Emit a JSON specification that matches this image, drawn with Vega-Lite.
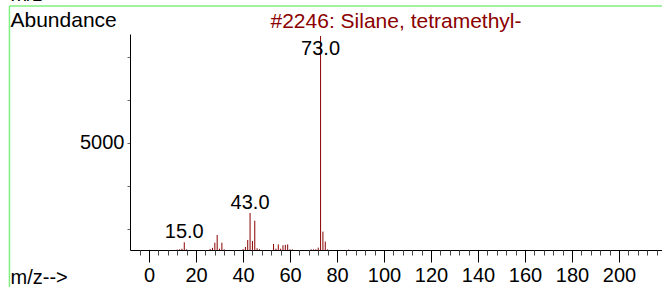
{
  "$schema": "https://vega.github.io/schema/vega-lite/v6.json",
  "width": 532,
  "height": 216,
  "autosize": "none",
  "padding": {"left": 130, "top": 34, "right": 0, "bottom": 37},
  "background": "white",
  "config": {
    "view": {"stroke": null},
    "font": "Liberation Sans",
    "axis": {"labelFont": "Liberation Sans", "titleFont": "Liberation Sans", "labelColor": "black", "titleColor": "black", "titleFontWeight": "normal", "domainColor": "black", "grid": false, "ticks": true}
  },
  "resolve": {"axis": {"x": "independent"}},
  "datasets": {
    "peaks": [
      {"mz": 12, "ab": 20},
      {"mz": 13, "ab": 30},
      {"mz": 14, "ab": 60},
      {"mz": 15, "ab": 360, "label": "15.0"},
      {"mz": 16, "ab": 30},
      {"mz": 26, "ab": 50},
      {"mz": 27, "ab": 100},
      {"mz": 28, "ab": 340},
      {"mz": 29, "ab": 700},
      {"mz": 30, "ab": 60},
      {"mz": 31, "ab": 340},
      {"mz": 32, "ab": 30},
      {"mz": 40, "ab": 40},
      {"mz": 41, "ab": 140},
      {"mz": 42, "ab": 470},
      {"mz": 43, "ab": 1730, "label": "43.0"},
      {"mz": 44, "ab": 420},
      {"mz": 45, "ab": 1370},
      {"mz": 46, "ab": 80},
      {"mz": 47, "ab": 40},
      {"mz": 53, "ab": 280},
      {"mz": 54, "ab": 60},
      {"mz": 55, "ab": 260},
      {"mz": 56, "ab": 60},
      {"mz": 57, "ab": 220},
      {"mz": 58, "ab": 240},
      {"mz": 59, "ab": 260},
      {"mz": 60, "ab": 30},
      {"mz": 61, "ab": 30},
      {"mz": 69, "ab": 30},
      {"mz": 70, "ab": 30},
      {"mz": 71, "ab": 30},
      {"mz": 72, "ab": 110},
      {"mz": 73, "ab": 10000, "label": "73.0"},
      {"mz": 74, "ab": 860},
      {"mz": 75, "ab": 390},
      {"mz": 76, "ab": 30},
      {"mz": 85, "ab": 20}
    ]
  },
  "layer": [
    {
      "layer": [
        {
          "data": {"name": "peaks"},
          "mark": {"type": "rule", "color": "#8b0000", "strokeWidth": 1},
          "encoding": {
            "x": {
              "field": "mz", "type": "quantitative",
              "scale": {"domain": [-8.1, 218.3], "nice": false, "zero": false},
              "axis": {
                "values": [0,20,40,60,80,100,120,140,160,180,200],
                "ticks": true,
                "tickSize": 12,
                "tickWidth": 1,
                "tickColor": "#000000",
                "labelFontSize": 20,
                "labelPadding": 3,
                "labelFlush": false,
                "labelOverlap": false,
                "title": "m/z-->",
                "titleFontSize": 20,
                "titleX": -120,
                "titleY": 33,
                "titleAlign": "left",
                "titleAnchor": "start",
                "titleBaseline": "alphabetic"
              }
            },
            "y": {
              "field": "ab", "type": "quantitative",
              "scale": {"domain": [0, 10093], "nice": false},
              "axis": {
                "values": [1000,2000,3000,4000,5000,6000,7000,8000,9000,10000],
                "labelExpr": "datum.value === 5000 ? '5000' : ''",
                "ticks": true,
                "tickSize": 3,
                "tickWidth": 1,
                "tickColor": "#666666",
                "labelFontSize": 20,
                "labelPadding": 3,
                "labelOverlap": false,
                "title": "Abundance",
                "titleFontSize": 21,
                "titleAngle": 0,
                "titleX": -120,
                "titleY": -8,
                "titleAlign": "left",
                "titleAnchor": "start",
                "titleBaseline": "alphabetic"
              }
            },
            "y2": {"datum": 0}
          }
        },
        {
          "data": {"name": "peaks"},
          "transform": [{"filter": "datum.label && datum.mz !== 73"}],
          "mark": {"type": "text", "font": "Liberation Sans", "fontSize": 20, "color": "black", "baseline": "alphabetic", "align": "center", "dy": -4},
          "encoding": {
            "x": {"field": "mz", "type": "quantitative"},
            "y": {"field": "ab", "type": "quantitative"},
            "text": {"field": "label"}
          }
        },
        {
          "data": {"name": "peaks"},
          "transform": [{"filter": "datum.mz === 73"}],
          "mark": {"type": "text", "font": "Liberation Sans", "fontSize": 20, "color": "black", "baseline": "alphabetic", "align": "center"},
          "encoding": {
            "x": {"field": "mz", "type": "quantitative"},
            "y": {"datum": 9112, "type": "quantitative"},
            "text": {"field": "label"}
          }
        },
        {
          "data": {"values": [{"t": "#2246: Silane, tetramethyl-"}]},
          "mark": {"type": "text", "font": "Liberation Sans", "fontSize": 21, "color": "#8b0000", "baseline": "alphabetic", "align": "center"},
          "encoding": {
            "x": {"datum": 105.1, "type": "quantitative"},
            "y": {"datum": 10373, "type": "quantitative"},
            "text": {"field": "t"}
          }
        },
        {
          "data": {"values": [{}]},
          "mark": {"type": "rule", "color": "#80f080", "strokeWidth": 1.5},
          "encoding": {
            "x": {"datum": -59.4, "type": "quantitative"},
            "x2": {"datum": 218.3},
            "y": {"datum": 11401, "type": "quantitative"}
          }
        },
        {
          "data": {"values": [{}]},
          "mark": {"type": "rule", "color": "#80f080", "strokeWidth": 1.5},
          "encoding": {
            "x": {"datum": -59.4, "type": "quantitative"},
            "y": {"datum": 11401, "type": "quantitative"},
            "y2": {"datum": -1729}
          }
        },
        {
          "data": {"values": [{"t": "m/z-->"}]},
          "mark": {"type": "text", "font": "Liberation Sans", "fontSize": 20, "color": "black", "baseline": "alphabetic", "align": "left"},
          "encoding": {
            "x": {"datum": -59.0, "type": "quantitative"},
            "y": {"datum": 11635, "type": "quantitative"},
            "text": {"field": "t"}
          }
        }
      ]
    },
    {
      "data": {"name": "peaks"},
      "mark": {"type": "point", "opacity": 0},
      "encoding": {
        "x": {
          "field": "mz", "type": "quantitative",
          "axis": {
            "orient": "top",
            "offset": -216,
            "values": [-4,4,8,12,16,24,28,32,36,44,48,52,56,64,68,72,76,84,88,92,96,104,108,112,116,124,128,132,136,144,148,152,156,164,168,172,176,184,188,192,196,204,208,212,216],
            "ticks": true,
            "tickSize": -5,
            "tickWidth": 1,
            "tickColor": "#444444",
            "labels": false,
            "domain": false,
            "title": null
          }
        },
        "y": {"datum": 0, "type": "quantitative"}
      }
    }
  ]
}
